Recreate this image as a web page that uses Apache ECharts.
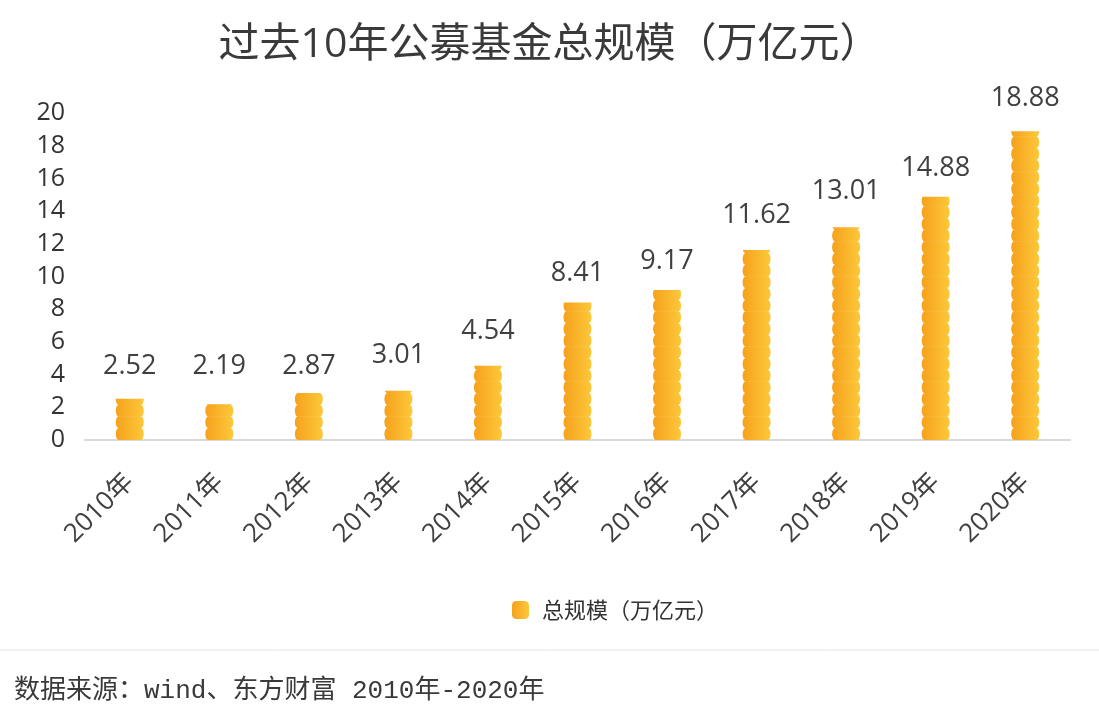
<!DOCTYPE html>
<html>
<head>
<meta charset="utf-8">
<title>过去10年公募基金总规模</title>
<script src="https://cdn.jsdelivr.net/npm/echarts@6/dist/echarts.min.js"></script>
<style>
  html, body { margin: 0; padding: 0; background: #fff; }
  #main { width: 1099px; height: 720px; }
</style>
</head>
<body>
<div id="main"></div>
<script>
// 数据
const years = ['2010年', '2011年', '2012年', '2013年', '2014年', '2015年',
  '2016年', '2017年', '2018年', '2019年', '2020年'];
const scaleValues = [2.52, 2.19, 2.87, 3.01, 4.54, 8.41, 9.17, 11.62, 13.01, 14.88, 18.88];
const seriesName = '总规模（万亿元）';
const yTicks = { min: 0, max: 20, interval: 2 };

const fontCn = '"Open Sans", "Noto Sans CJK SC"';

// 金币侧面形状，一枚一枚叠起来
const coin = 'path://M3,0 H25 A3,6 0 0 1 25,12 H3 A3,6 0 0 1 3,0 Z';
const goldColor = new echarts.graphic.LinearGradient(0, 0, 1, 0, [
  { offset: 0, color: '#f6a11c' },
  { offset: 1, color: '#fdc83a' }
]);

const chart = echarts.init(document.getElementById('main'));
const option = {
  backgroundColor: '#fff',
  title: {
    text: '过去10年公募基金总规模（万亿元）',
    left: 'center',
    top: 20,
    textStyle: {
      fontFamily: fontCn,
      fontSize: 41,
      fontWeight: 'normal',
      color: '#3a3a3a'
    }
  },
  legend: {
    left: 507,
    top: 594,
    icon: 'roundRect',
    itemWidth: 17,
    itemHeight: 18,
    data: [{ name: seriesName, itemStyle: { color: goldColor } }],
    textStyle: {
      fontFamily: 'Noto Sans CJK SC',
      fontSize: 22,
      color: '#333',
      padding: [0, 0, 0, 8]
    }
  },
  grid: { left: 85, right: 29, top: 113, bottom: 280, containLabel: false },
  xAxis: {
    type: 'category',
    data: years,
    axisLine: { lineStyle: { color: '#d9d9d9', width: 2 } },
    axisTick: { show: false },
    axisLabel: {
      rotate: 45,
      margin: 38,
      interval: 0,
      fontFamily: fontCn,
      fontSize: 26,
      color: '#404040'
    }
  },
  yAxis: {
    type: 'value',
    min: yTicks.min,
    max: yTicks.max,
    interval: yTicks.interval,
    splitLine: { show: false },
    axisLine: { show: false },
    axisTick: { show: false },
    axisLabel: {
      margin: 20,
      padding: [4, 0, 0, 0],
      fontFamily: fontCn,
      fontSize: 25,
      color: '#333'
    }
  },
  series: [{
    name: seriesName,
    type: 'pictorialBar',
    data: scaleValues,
    symbol: coin,
    symbolSize: [28, 12],
    symbolRepeat: true,
    symbolMargin: 0,
    symbolClip: true,
    itemStyle: { color: goldColor },
    label: {
      show: true,
      position: 'top',
      distance: 13,
      fontFamily: fontCn,
      fontSize: 27,
      color: '#404040'
    }
  }],
  graphic: [
    {
      type: 'line',
      shape: { x1: 0, y1: 650, x2: 1099, y2: 650 },
      style: { stroke: '#e6e6e6', lineWidth: 1 }
    },
    {
      type: 'text',
      left: 14,
      top: 678,
      style: {
        text: '数据来源：wind、东方财富 2010年-2020年',
        font: '26px "Liberation Mono", "Noto Sans CJK SC"',
        fill: '#3a3a3a'
      }
    }
  ]
};
chart.setOption(option);
window.onresize = () => chart.resize();
</script>
</body>
</html>
